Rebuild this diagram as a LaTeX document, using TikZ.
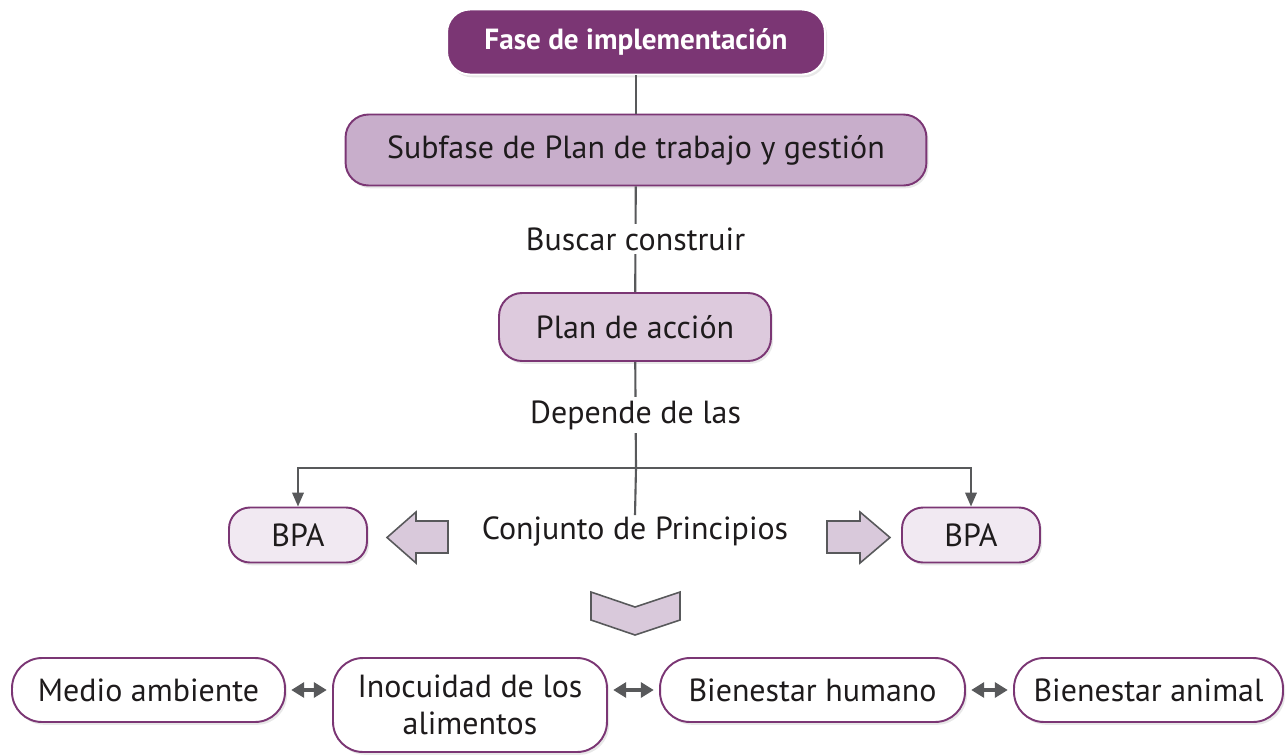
\documentclass[tikz,border=0pt]{standalone}
\usepackage{fontspec}
\setmainfont{PT Sans}
\usetikzlibrary{positioning,arrows.meta,shadows}
\definecolor{fasepurple}{RGB}{123,54,116}
\definecolor{subfill}{RGB}{200,174,203}
\definecolor{planfill}{RGB}{221,202,221}
\definecolor{bpafill}{RGB}{241,233,242}
\definecolor{fatfill}{RGB}{217,201,219}
\definecolor{linegray}{RGB}{88,89,91}
\definecolor{inkgray}{RGB}{30,27,28}
\tikzset{
  >={Triangle[length=2.8mm,width=2.3mm]},
  box/.style={draw=fasepurple,line width=1.1pt,rounded corners=0.46cm,
    font=\fontsize{18.2}{21}\selectfont,text=inkgray,inner sep=2pt,align=center,
    drop shadow={opacity=0.18,shadow xshift=1.2pt,shadow yshift=-1.6pt}},
  fasebox/.style={box,fill=fasepurple,draw=white,text=white,
    font=\bfseries\fontsize{16.6}{19}\selectfont,
    minimum width=7.56cm,minimum height=1.3cm},
  subbox/.style={box,fill=subfill,minimum width=11.62cm,minimum height=1.42cm},
  planbox/.style={box,fill=planfill,minimum width=5.44cm,minimum height=1.36cm},
  bpabox/.style={box,fill=bpafill,rounded corners=0.42cm,
    minimum width=2.76cm,minimum height=1.1cm},
  areabox/.style={box,fill=white,rounded corners=0.6cm,minimum height=1.28cm},
  link/.style={draw=linegray,line width=1.2pt},
  flow/.style={link,->},
  linklbl/.style={font=\fontsize{18.2}{21}\selectfont,text=inkgray,fill=white,
    inner sep=2pt},
  fatarrow/.style={draw=linegray,fill=fatfill,line width=0.9pt,line join=miter},
  both/.style={draw=linegray,line width=2.2pt,
    {Triangle[length=2.6mm,width=3mm]}-{Triangle[length=2.6mm,width=3mm]},
    shorten <=3pt,shorten >=3pt},
}

\begin{document}
\begin{tikzpicture}[x=0.02cm,y=-0.02cm]
  \useasboundingbox (0,0) rectangle (1286,755);
  \node[fasebox] (fase) at (636,42) {Fase de implementación};
  \node[subbox] (sub) at (636,150) {Subfase de Plan de trabajo y gestión};
  \node[planbox] (plan) at (635,327) {Plan de acción};
  \coordinate (hub) at (636,468);
  \node[font=\fontsize{18.2}{21}\selectfont,text=inkgray,inner sep=0pt,
    minimum height=0.62cm] (conj) at (635,531) {Conjunto de Principios};
  \node[bpabox] (bpaL) at (298,535) {BPA};
  \node[bpabox] (bpaR) at (971,535) {BPA};
  \node[areabox,minimum width=5.46cm] (medio) at (148.5,690) {Medio ambiente};
  \node[areabox,minimum width=5.48cm,minimum height=1.88cm] (inoc) at (470,705)
    {Inocuidad de los\\alimentos};
  \node[areabox,minimum width=6.1cm] (bhum) at (812.5,690) {Bienestar humano};
  \node[areabox,minimum width=5.38cm] (banim) at (1148.5,690) {Bienestar animal};

  \path[link] (fase) -- (sub);
  \path[link] (sub) -- node[linklbl]{Buscar construir} (plan);
  \path[link] (plan) -- node[linklbl]{Depende de las} (hub) -- (conj.north);
  \path[flow] (hub) -| (bpaL.north);
  \path[flow] (hub) -| (bpaR.north);

  \filldraw[fatarrow] (448,521) -- (416,521) -- (416,512) -- (387,537.5)
    -- (416,563) -- (416,553) -- (448,553) -- cycle;
  \filldraw[fatarrow] (827,521) -- (860,521) -- (860,512) -- (890,537.5)
    -- (860,563) -- (860,553) -- (827,553) -- cycle;
  \filldraw[fatarrow] (591,592) -- (635,607) -- (680,592) -- (680,620)
    -- (635,635) -- (591,620) -- cycle;

  \draw[both] (medio.east) -- (medio.east -| inoc.west);
  \draw[both] (inoc.east |- bhum.west) -- (bhum.west);
  \draw[both] (bhum.east) -- (banim.west);
\end{tikzpicture}
\end{document}
